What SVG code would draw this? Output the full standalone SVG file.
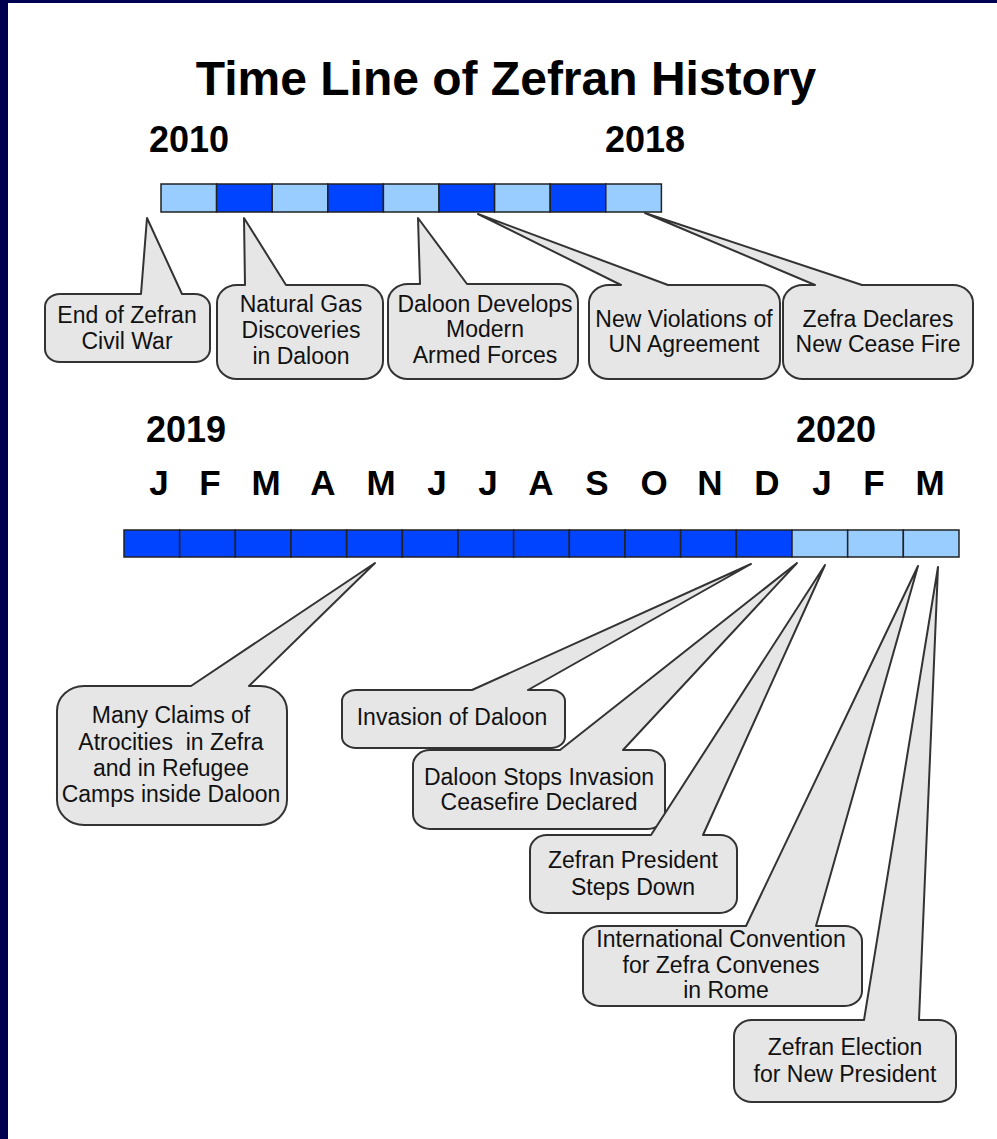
<svg xmlns="http://www.w3.org/2000/svg" width="997" height="1139" viewBox="0 0 997 1139">
<style>
.title{font-family:"Liberation Sans",Arial,sans-serif;font-weight:bold;font-size:48px;fill:#000;text-anchor:middle}
.yr{font-family:"Liberation Sans",Arial,sans-serif;font-weight:bold;font-size:36px;fill:#000;text-anchor:middle}
.mo{font-family:"Liberation Sans",Arial,sans-serif;font-weight:bold;font-size:35px;fill:#000;text-anchor:middle}
.lt{fill:#99ccff;stroke:#222;stroke-width:1.5}
.dk{fill:#0044ff;stroke:#222;stroke-width:1.5}
.co{fill:#e6e6e6;stroke:#333;stroke-width:2;stroke-linejoin:round}
.ct{font-family:"Liberation Sans",Arial,sans-serif;font-size:23px;fill:#111;text-anchor:middle}
</style>
<rect width="997" height="1139" fill="#fff"/>
<rect x="0" y="0" width="8" height="1139" fill="#000050"/>
<rect x="0" y="0" width="997" height="3" fill="#000050"/>
<text class="title" x="506" y="95">Time Line of Zefran History</text>
<text class="yr" x="189" y="152">2010</text>
<text class="yr" x="645" y="152">2018</text>
<text class="yr" x="186" y="442">2019</text>
<text class="yr" x="836" y="442">2020</text>
<g id="months">
<text class="mo" x="159" y="495">J</text>
<text class="mo" x="210" y="495">F</text>
<text class="mo" x="266" y="495">M</text>
<text class="mo" x="323" y="495">A</text>
<text class="mo" x="381" y="495">M</text>
<text class="mo" x="437" y="495">J</text>
<text class="mo" x="488" y="495">J</text>
<text class="mo" x="541" y="495">A</text>
<text class="mo" x="597" y="495">S</text>
<text class="mo" x="654" y="495">O</text>
<text class="mo" x="710" y="495">N</text>
<text class="mo" x="767" y="495">D</text>
<text class="mo" x="822" y="495">J</text>
<text class="mo" x="874" y="495">F</text>
<text class="mo" x="930" y="495">M</text>
</g>
<g id="bar1">
<rect class="lt" x="161" y="184" width="55.6" height="28"/>
<rect class="dk" x="216.6" y="184" width="55.6" height="28"/>
<rect class="lt" x="272.2" y="184" width="55.6" height="28"/>
<rect class="dk" x="327.8" y="184" width="55.6" height="28"/>
<rect class="lt" x="383.4" y="184" width="55.6" height="28"/>
<rect class="dk" x="439" y="184" width="55.6" height="28"/>
<rect class="lt" x="494.6" y="184" width="55.6" height="28"/>
<rect class="dk" x="550.2" y="184" width="55.6" height="28"/>
<rect class="lt" x="605.8" y="184" width="55.6" height="28"/>
</g>
<g id="bar2">
<rect class="dk" x="124" y="530" width="55.67" height="27"/>
<rect class="dk" x="179.67" y="530" width="55.67" height="27"/>
<rect class="dk" x="235.33" y="530" width="55.67" height="27"/>
<rect class="dk" x="291" y="530" width="55.67" height="27"/>
<rect class="dk" x="346.67" y="530" width="55.67" height="27"/>
<rect class="dk" x="402.33" y="530" width="55.67" height="27"/>
<rect class="dk" x="458" y="530" width="55.67" height="27"/>
<rect class="dk" x="513.67" y="530" width="55.67" height="27"/>
<rect class="dk" x="569.33" y="530" width="55.67" height="27"/>
<rect class="dk" x="625" y="530" width="55.67" height="27"/>
<rect class="dk" x="680.67" y="530" width="55.67" height="27"/>
<rect class="dk" x="736.33" y="530" width="55.67" height="27"/>
<rect class="lt" x="792" y="530" width="55.67" height="27"/>
<rect class="lt" x="847.67" y="530" width="55.67" height="27"/>
<rect class="lt" x="903.33" y="530" width="55.67" height="27"/>
</g>
<g id="c1">
<path class="co" d="M60,294 L141,294 L147,218 L182,294 L195,294 A15,13 0 0 1 210,307 L210,349 A15,13 0 0 1 195,362 L60,362 A15,13 0 0 1 45,349 L45,307 A15,13 0 0 1 60,294 Z"/>
<text class="ct" x="127" y="323">End of Zefran</text>
<text class="ct" x="127" y="349">Civil War</text>
</g>
<g id="c2">
<path class="co" d="M237,285 L245,285 L244,218 L286,285 L363,285 A20,18 0 0 1 383,303 L383,361 A20,18 0 0 1 363,379 L237,379 A20,18 0 0 1 217,361 L217,303 A20,18 0 0 1 237,285 Z"/>
<text class="ct" x="301" y="312">Natural Gas</text>
<text class="ct" x="301" y="338">Discoveries</text>
<text class="ct" x="301" y="364">in Daloon</text>
</g>
<g id="c3">
<path class="co" d="M408,284 L420,284 L418,218 L467,284 L558,284 A20,18 0 0 1 578,302 L578,361 A20,18 0 0 1 558,379 L408,379 A20,18 0 0 1 388,361 L388,302 A20,18 0 0 1 408,284 Z"/>
<text class="ct" x="485" y="312">Daloon Develops</text>
<text class="ct" x="485" y="337">Modern</text>
<text class="ct" x="485" y="363">Armed Forces</text>
</g>
<g id="c4">
<path class="co" d="M609,285 L621,285 L478,214 L668,285 L760,285 A20,18 0 0 1 780,303 L780,361 A20,18 0 0 1 760,379 L609,379 A20,18 0 0 1 589,361 L589,303 A20,18 0 0 1 609,285 Z"/>
<text class="ct" x="684" y="327">New Violations of</text>
<text class="ct" x="684" y="352">UN Agreement</text>
</g>
<g id="c5">
<path class="co" d="M803,285 L815,285 L645,213 L862,285 L953,285 A20,18 0 0 1 973,303 L973,361 A20,18 0 0 1 953,379 L803,379 A20,18 0 0 1 783,361 L783,303 A20,18 0 0 1 803,285 Z"/>
<text class="ct" x="878" y="327">Zefra Declares</text>
<text class="ct" x="878" y="352">New Cease Fire</text>
</g>
<g id="c6">
<path class="co" d="M84,686 L191,686 L375,563 L249,686 L260,686 A27,25 0 0 1 287,711 L287,800 A27,25 0 0 1 260,825 L84,825 A27,25 0 0 1 57,800 L57,711 A27,25 0 0 1 84,686 Z"/>
<text class="ct" x="171" y="723">Many Claims of</text>
<text class="ct" x="171" y="750" xml:space="preserve">Atrocities  in Zefra</text>
<text class="ct" x="171" y="776">and in Refugee</text>
<text class="ct" x="171" y="802">Camps inside Daloon</text>
</g>
<g id="c7">
<path class="co" d="M356,690 L472,690 L751,564 L528,690 L551,690 A14,11 0 0 1 565,701 L565,737 A14,11 0 0 1 551,748 L356,748 A14,11 0 0 1 342,737 L342,701 A14,11 0 0 1 356,690 Z"/>
<text class="ct" x="452" y="725">Invasion of Daloon</text>
</g>
<g id="c8">
<path class="co" d="M430,750 L560,750 L797,563 L623,750 L648,750 A17,15 0 0 1 665,765 L665,814 A17,15 0 0 1 648,829 L430,829 A17,15 0 0 1 413,814 L413,765 A17,15 0 0 1 430,750 Z"/>
<text class="ct" x="539" y="785">Daloon Stops Invasion</text>
<text class="ct" x="539" y="810">Ceasefire Declared</text>
</g>
<g id="c9">
<path class="co" d="M547,835 L651,835 L825,565 L703,835 L720,835 A17,15 0 0 1 737,850 L737,898 A17,15 0 0 1 720,913 L547,913 A17,15 0 0 1 530,898 L530,850 A17,15 0 0 1 547,835 Z"/>
<text class="ct" x="633" y="868">Zefran President</text>
<text class="ct" x="633" y="895">Steps Down</text>
</g>
<g id="c10">
<path class="co" d="M600,926 L746,926 L918,566 L816,926 L845,926 A17,15 0 0 1 862,941 L862,991 A17,15 0 0 1 845,1006 L600,1006 A17,15 0 0 1 583,991 L583,941 A17,15 0 0 1 600,926 Z"/>
<text class="ct" x="721" y="947">International Convention</text>
<text class="ct" x="721" y="973">for Zefra Convenes</text>
<text class="ct" x="726" y="998">in Rome</text>
</g>
<g id="c11">
<path class="co" d="M752,1020 L864,1020 L938,567 L919,1020 L938,1020 A18,16 0 0 1 956,1036 L956,1086 A18,16 0 0 1 938,1102 L752,1102 A18,16 0 0 1 734,1086 L734,1036 A18,16 0 0 1 752,1020 Z"/>
<text class="ct" x="845" y="1055">Zefran Election</text>
<text class="ct" x="845" y="1082">for New President</text>
</g>
</svg>
